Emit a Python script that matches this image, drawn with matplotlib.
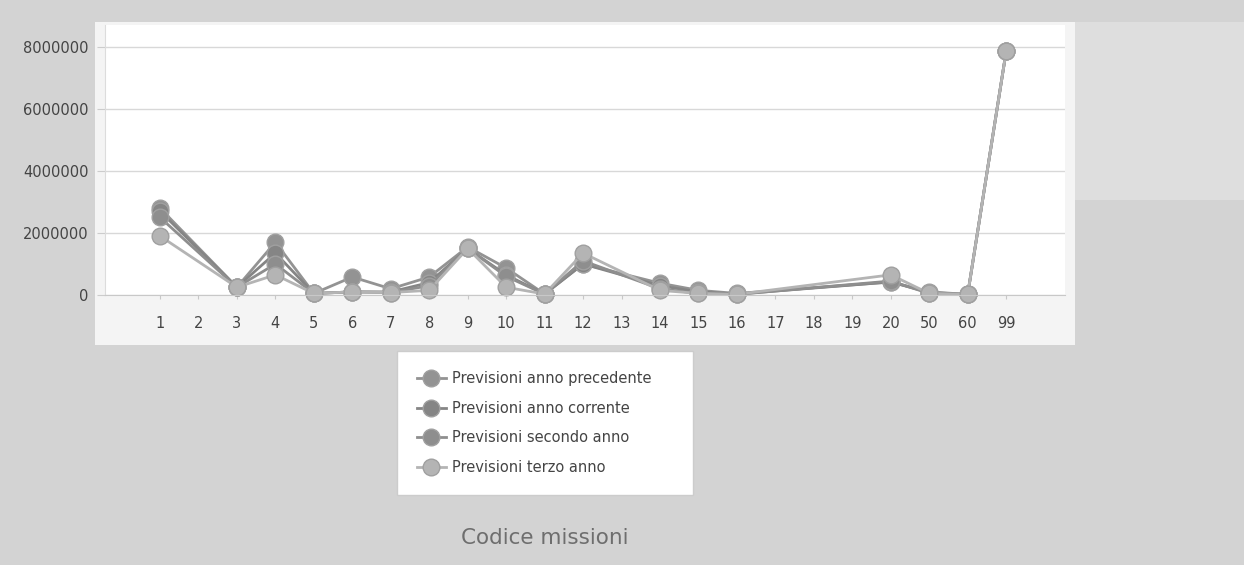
import matplotlib
matplotlib.use("Agg")
import matplotlib.pyplot as plt
from matplotlib.patches import Rectangle
from matplotlib.lines import Line2D

categories = ['1', '2', '3', '4', '5', '6', '7', '8', '9', '10', '11', '12', '13',
              '14', '15', '16', '17', '18', '19', '20', '50', '60', '99']

prev_precedente = [2800000, None, 250000, 1700000, 50000, 580000, 200000, 580000, 1550000, 870000, 30000,
                   1000000, None, 380000, 150000, 50000, None, None, None, 420000, 100000, 20000, 7850000]
prev_corrente = [2700000, None, 250000, 1350000, 50000, 100000, 100000, 400000, 1500000, 650000, 30000,
                 1000000, None, 300000, 100000, 30000, None, None, None, 420000, 80000, 20000, 7850000]
prev_secondo = [2500000, None, 250000, 1000000, 50000, 100000, 80000, 300000, 1500000, 600000, 30000,
                1100000, None, 200000, 50000, 20000, None, None, None, 450000, 50000, 20000, 7850000]
prev_terzo = [1900000, None, 250000, 650000, 50000, 100000, 80000, 150000, 1500000, 250000, 30000,
              1350000, None, 150000, 50000, 20000, None, None, None, 650000, 50000, 20000, 7850000]

series_names = ['Previsioni anno precedente', 'Previsioni anno corrente',
                'Previsioni secondo anno', 'Previsioni terzo anno']
series_values = [prev_precedente, prev_corrente, prev_secondo, prev_terzo]
colors = ['#939393', '#858585', '#8e8e8e', '#b4b4b4']
yticks = [0, 2000000, 4000000, 6000000, 8000000]

W, H = 1244, 565
fig = plt.figure(figsize=(W / 100, H / 100), dpi=100, facecolor='#d3d3d3')

# whitish scanned page area
fig.patches.append(Rectangle((95 / W, 1 - 345 / H), (1075 - 95) / W, (345 - 22) / H,
                             transform=fig.transFigure, facecolor='#f4f4f4',
                             edgecolor='none', zorder=-5))
fig.patches.append(Rectangle((1075 / W, 1 - 200 / H), (W - 1075) / W, (200 - 22) / H,
                             transform=fig.transFigure, facecolor='#dedede',
                             edgecolor='none', zorder=-5))

ax = fig.add_axes([105 / W, 1 - 295 / H, (1065 - 105) / W, (295 - 25) / H])
ax.set_facecolor('white')

xs_all = list(range(len(categories)))
for name, vals, c in zip(series_names, series_values, colors):
    xs = [x for x, v in zip(xs_all, vals) if v is not None]
    ys = [v for v in vals if v is not None]
    ax.plot(xs, ys, color=c, lw=2.0, marker='o', markersize=12,
            markerfacecolor=c, markeredgecolor='#a0a0a0', markeredgewidth=1.0,
            label=name, clip_on=False)

ax.set_xlim(-1.43, 23.53)
ax.set_ylim(0, 8700000)
ax.set_xticks(xs_all)
ax.set_xticklabels(categories)
ax.set_yticks(yticks)
ax.set_yticklabels([str(v) for v in yticks])
ax.grid(axis='y', color='#d8d8d8', lw=1)
ax.set_axisbelow(True)
for s in ['top', 'right']:
    ax.spines[s].set_visible(False)
ax.spines['left'].set_color('#dcdcdc')
ax.spines['bottom'].set_color('#c8c8c8')
ax.tick_params(axis='x', length=3, color='#c8c8c8', labelsize=10.5, labelcolor='#444444', pad=12)
ax.tick_params(axis='y', length=6, color='#cccccc', labelsize=10.5, labelcolor='#444444', pad=6)

handles = [Line2D([0], [0], color=c, lw=2.0, marker='o', markersize=12,
                  markerfacecolor=c, markeredgecolor='#a0a0a0') for c in colors]
leg = fig.legend(handles, series_names, loc='upper left', mode='expand',
                 bbox_to_anchor=(397 / W, 1 - 352 / H, (693 - 397) / W, 0.001),
                 frameon=True, fancybox=False,
                 fontsize=10.5, labelspacing=1.0, handlelength=2.0, handletextpad=0.4,
                 borderpad=1.35, borderaxespad=0, edgecolor='#cccccc', facecolor='white',
                 framealpha=1)
leg.get_frame().set_linewidth(1)
for t in leg.get_texts():
    t.set_color('#444444')

fig.text(545 / W, 1 - 538 / H, 'Codice missioni', ha='center', va='center',
         fontsize=15.5, color='#6e6e6e')

fig.savefig('out.png', dpi=100, facecolor=fig.get_facecolor())
